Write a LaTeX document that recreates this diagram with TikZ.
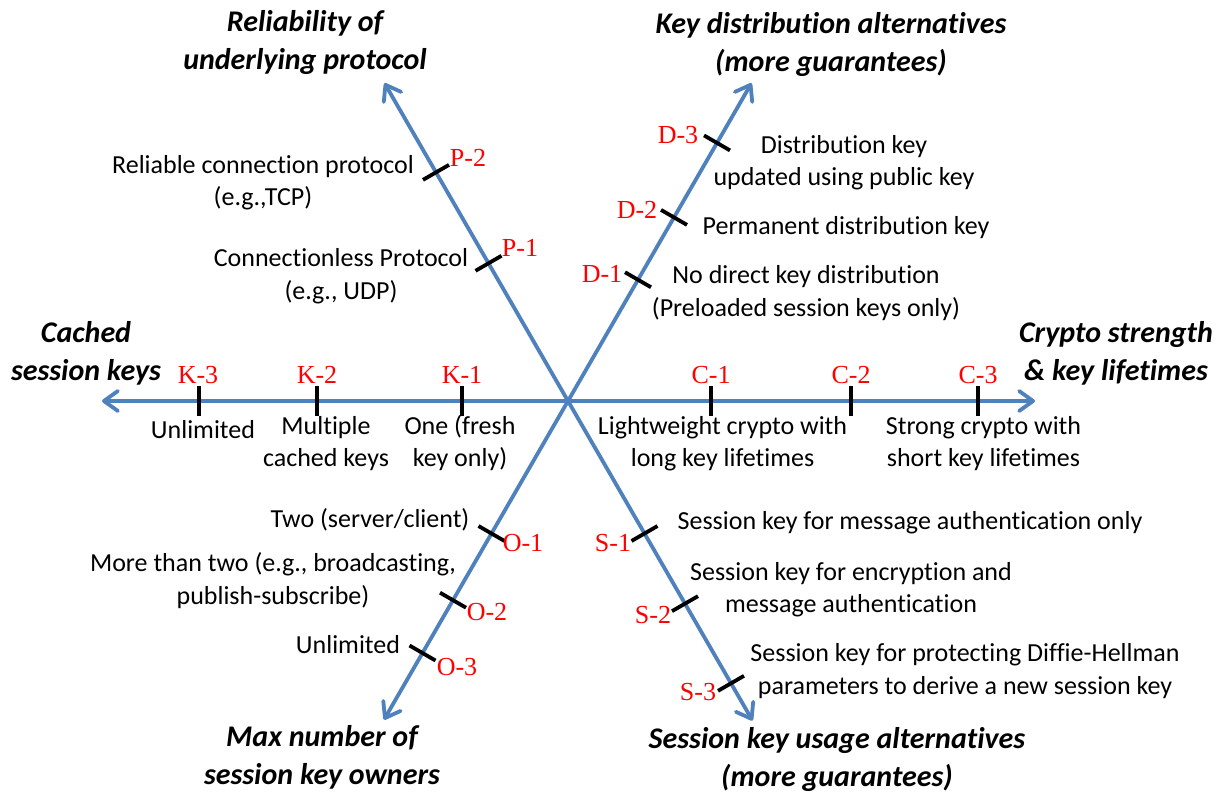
\documentclass[tikz,border=0pt]{standalone}
\usepackage{fontspec}
\setmainfont{Carlito}[Ligatures={NoCommon}]
\newfontfamily\levelfont{Liberation Serif}
\usetikzlibrary{arrows.meta,calc}

\definecolor{axisblue}{RGB}{79,129,189}
\definecolor{levelred}{RGB}{255,0,0}

% struts that make every text line the same height and depth,
% so a node's centre sits on the middle of its letters
\newcommand\optstrut{\rule[-8.05pt]{0pt}{32.5pt}}
\newcommand\headstrut{\rule[-9.3pt]{0pt}{38pt}}

\tikzset{
  axisline/.style={draw=axisblue, line width=3.8pt,
    {Straight Barb[length=14pt,width=20pt,round]}-{Straight Barb[length=14pt,width=20pt,round]}},
  tickline/.style={draw=black, line width=3.8pt},
  levellabel/.style={font=\levelfont\fontsize{26}{30}\selectfont, text=levelred,
    inner sep=0pt, text height=20pt, text depth=3pt},
  optiontext/.style={font=\fontsize{26}{32.5}\selectfont, align=center, inner sep=0pt},
  axistitle/.style={font=\bfseries\itshape\fontsize{30}{38}\selectfont, align=center, inner sep=0pt},
}

% a tick across an axis: name, direction from the centre, distance
\newcommand\scaletick[3]{%
  \coordinate (#1) at ($(ctr)+(#2:#3)$);
  \draw[tickline] ($(#1)+({#2+90}:15)$) -- ($(#1)+({#2-90}:15)$);}

\begin{document}
\begin{tikzpicture}[x=1pt, y=-1pt]
\fill[white] (0,0) rectangle (1228,794);
\useasboundingbox (0,0) rectangle (1228,794);

% centre and axis ends
\coordinate (ctr) at (568,401);
\coordinate (endK) at ($(ctr)+(180:466)$);
\coordinate (endC) at ($(ctr)+(0:467)$);
\coordinate (endP) at ($(ctr)+(-120:367)$);
\coordinate (endS) at ($(ctr)+(60:369)$);
\coordinate (endD) at ($(ctr)+(-60:367)$);
\coordinate (endO) at ($(ctr)+(120:368)$);

% the three axes
\draw[axisline] (endK) -- (endC);
\draw[axisline] (endP) -- (endS);
\draw[axisline] (endO) -- (endD);

% ticks
\scaletick{tP1}{-120}{159}
\scaletick{tP2}{-120}{264}
\scaletick{tD1}{-60}{140}
\scaletick{tD2}{-60}{212}
\scaletick{tD3}{-60}{298}
\scaletick{tK1}{180}{106}
\scaletick{tK2}{180}{251}
\scaletick{tK3}{180}{369}
\scaletick{tC1}{0}{143}
\scaletick{tC2}{0}{283}
\scaletick{tC3}{0}{410}
\scaletick{tO1}{120}{153}
\scaletick{tO2}{120}{230}
\scaletick{tO3}{120}{291}
\scaletick{tS1}{60}{153}
\scaletick{tS2}{60}{234}
\scaletick{tS3}{60}{326}

% level labels
\node[levellabel] (lP2) at (468,158) {P-2};
\node[levellabel] (lP1) at (520,248) {P-1};
\node[levellabel] (lD3) at (678,135) {D-3};
\node[levellabel] (lD2) at (637,210) {D-2};
\node[levellabel] (lD1) at (602,274) {D-1};
\node[levellabel] (lK3) at (198,375) {K-3};
\node[levellabel] (lK2) at (317,375) {K-2};
\node[levellabel] (lK1) at (462,375) {K-1};
\node[levellabel] (lC1) at (711,375) {C-1};
\node[levellabel] (lC2) at (851,375) {C-2};
\node[levellabel] (lC3) at (978,375) {C-3};
\node[levellabel] (lO1) at (523,543) {O-1};
\node[levellabel] (lO2) at (487,612) {O-2};
\node[levellabel] (lO3) at (457,667) {O-3};
\node[levellabel] (lS1) at (613,543) {S-1};
\node[levellabel] (lS2) at (653,615) {S-2};
\node[levellabel] (lS3) at (698,692) {S-3};

% option descriptions
\node[optiontext] (oP2) at (263,181.5) {\optstrut Reliable connection protocol\\\optstrut (e.g.,TCP)};
\node[optiontext] (oP1) at (341,275) {\optstrut Connectionless Protocol\\\optstrut (e.g., UDP)};
\node[optiontext] (oD3) at (844,161.5) {\optstrut Distribution key\\\optstrut updated using public key};
\node[optiontext] (oD2) at (846,226) {\optstrut Permanent distribution key};
\node[optiontext] (oD1) at (806,292) {\optstrut No direct key distribution\\\optstrut (Preloaded session keys only)};
\node[optiontext] (oK3) at (203,430) {\optstrut Unlimited};
\node[optiontext] (oK2) at (326,442.5) {\optstrut Multiple\\\optstrut cached keys};
\node[optiontext] (oK1) at (460,442.5) {\optstrut One (fresh\\\optstrut key only)};
\node[optiontext] (oC1) at (722.5,442.5) {\optstrut Lightweight crypto with\\\optstrut long key lifetimes};
\node[optiontext] (oC3) at (983.5,442.5) {\optstrut Strong crypto with\\\optstrut short key lifetimes};
\node[optiontext] (oO1) at (370,519) {\optstrut Two (server/client)};
\node[optiontext] (oO2) at (273,580) {\optstrut More than two (e.g., broadcasting,\\\optstrut publish-subscribe)};
\node[optiontext] (oO3) at (348,645) {\optstrut Unlimited};
\node[optiontext] (oS1) at (910,521) {\optstrut Session key for message authentication only};
\node[optiontext] (oS2) at (851,588.5) {\optstrut Session key for encryption and\\\optstrut message authentication};
\node[optiontext] (oS3) at (965,670) {\optstrut Session key for protecting Diffie-Hellman\\\optstrut parameters to derive a new session key};

% axis titles
\node[axistitle] (hP) at (305,40.5) {\headstrut Reliability of\\\headstrut underlying protocol};
\node[axistitle] (hD) at (831,42.5) {\headstrut Key distribution alternatives\\\headstrut (more guarantees)};
\node[axistitle] (hK) at (86,352) {\headstrut Cached\\\headstrut session keys};
\node[axistitle] (hC) at (1116,351.5) {\headstrut Crypto strength\\\headstrut \& key lifetimes};
\node[axistitle] (hO) at (322,756) {\headstrut Max number of\\\headstrut session key owners};
\node[axistitle] (hS) at (837,757.5) {\headstrut Session key usage alternatives\\\headstrut (more guarantees)};
\end{tikzpicture}
\end{document}
